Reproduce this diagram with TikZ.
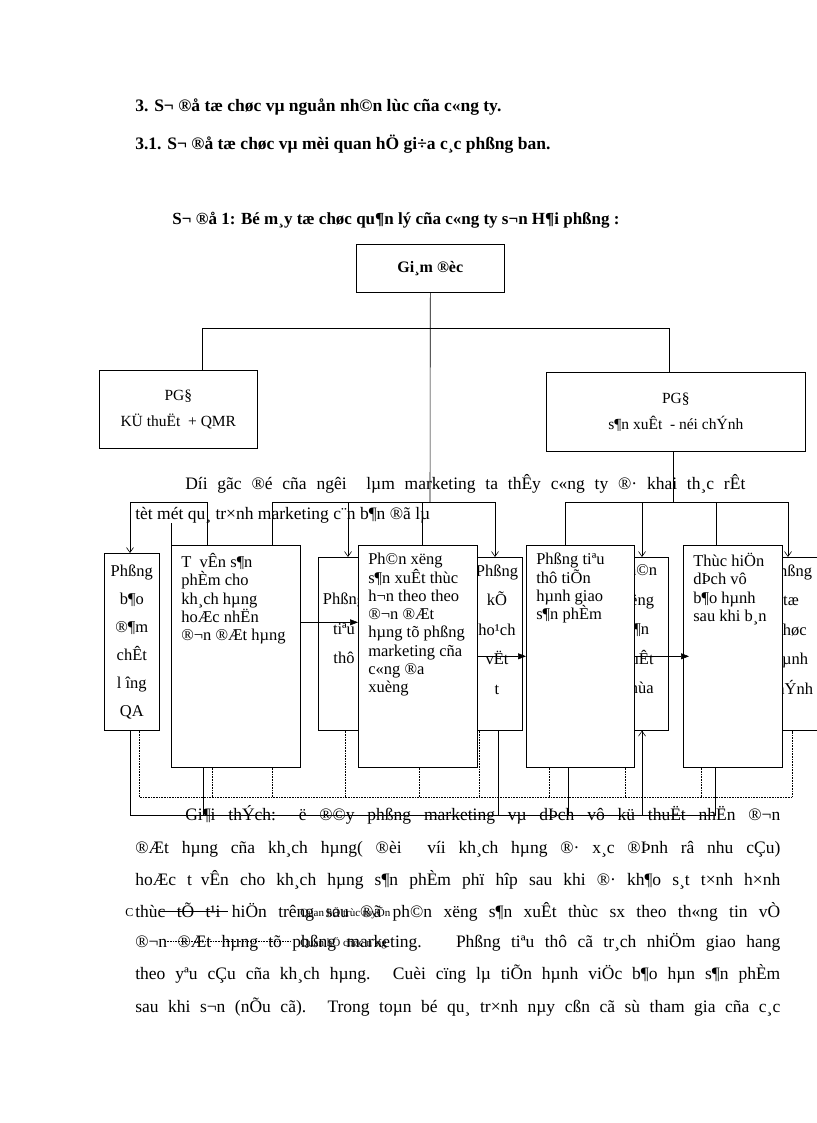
\documentclass[tikz,border=0pt]{standalone}
\usepackage{fontspec}
\setmainfont{Liberation Serif}
\usetikzlibrary{arrows.meta}

\begin{document}
\begin{tikzpicture}[x=1pt,y=-1pt,line width=0.6pt]
\tikzstyle{box}=[draw,fill=white,rectangle,anchor=north west,inner sep=0]
\tikzstyle{lab}=[anchor=north west,align=left,inner sep=0,xshift=10pt,yshift=-8pt,font=\fontsize{16.5}{18.3}\selectfont]
\tikzstyle{nar}=[align=center,inner sep=0,font=\fontsize{16.5}{29.5}\selectfont]
\tikzstyle{par}=[anchor=base west,inner sep=0,font=\fontsize{17.5}{17.5}\selectfont]
\tikzstyle{head}=[anchor=base west,inner sep=0,font=\fontsize{17.5}{17.5}\selectfont\bfseries]
\tikzstyle{arr}=[-{Straight Barb[length=5pt,width=7pt]}]
\tikzstyle{tri}=[-{Triangle[length=8pt,width=6pt]}]
\tikzstyle{dot}=[densely dotted]
\useasboundingbox[fill=white] (0,0) rectangle (816,1123);

% headings
\node[head] (h1) at (135,112) {3. S¬ ®å tæ chøc vµ nguån nh©n lùc cña c«ng ty.};
\node[head] (h2) at (135,150) {3.1. S¬ ®å tæ chøc vµ mèi quan hÖ gi÷a c¸c phßng ban.};
\node[head,anchor=base,font=\fontsize{17}{17}\selectfont\bfseries] (h3) at (396,225) {S¬ ®å 1: Bé m¸y tæ chøc qu¶n lý cña c«ng ty s¬n H¶i phßng :};

% top of the chart
\node[box,minimum width=148pt,minimum height=48pt,font=\fontsize{16}{16}\selectfont\bfseries] (gd) at (356,244) {Gi¸m ®èc};
\node[box,minimum width=158pt,minimum height=78pt,align=center,font=\fontsize{15.5}{26}\selectfont] (pgk) at (99,370) {PG§\\KÜ thuËt \ + QMR};
\node[box,minimum width=259pt,minimum height=79pt,align=center,font=\fontsize{15.5}{26}\selectfont] (pgs) at (546,372) {PG§\\s¶n xuÊt \ - néi chÝnh};
\coordinate (t1) at (202,328);
\coordinate (t2) at (669,328);
\coordinate (m0) at (430,502);
\draw (gd.south) -- (m0);
\draw (pgk.north -| t1) |- (t2) -- (pgs.north -| t2);

% boxes behind
\node[box,minimum width=52pt,minimum height=173pt] (tt) at (318,557) {};
\node[nar] (ttx) at (344,643) {Phßng\\tiªu\\thô\\ };
\node[box,minimum width=50pt,minimum height=173pt] (kh) at (472,557) {};
\node[nar] (khx) at (497,644) {Phßng\\kÕ\\ho¹ch\\vËt\\t\\ };
\node[box,minimum width=60pt,minimum height=173pt] (pxp) at (608,557) {};
\node[nar] (pxpx) at (638,644) {Ph©n\\xëng\\s¶n\\xuÊt\\chùa\\ };
\node[box,minimum width=60pt,minimum height=173pt] (tc) at (766,557) {};
\node[nar] (tcx) at (791,644) {Phßng\\tæ\\chøc\\hµnh\\chÝnh\\ };

% boxes in front
\node[box,minimum width=55pt,minimum height=177pt,align=center,font=\fontsize{16.5}{28}\selectfont] (qa) at (104,553) {Phßng\\b¶o\\®¶m\\chÊt\\l îng\\QA};
\node[box,minimum width=129pt,minimum height=222pt,label={[lab]north west:{T\enspace vÊn s¶n\\phÈm cho\\kh¸ch hµng\\hoÆc nhËn\\®¬n ®Æt hµng}}] (tv) at (171,545) {};
\node[box,minimum width=119pt,minimum height=222pt,label={[lab]north west:{Ph©n xëng\\s¶n xuÊt thùc\\h¬n theo theo\\®¬n ®Æt\\hµng tõ phßng\\marketing cña\\c«ng ®a\\xuèng}}] (px) at (358,545) {};
\node[box,minimum width=108pt,minimum height=222pt,label={[lab]north west:{Phßng tiªu\\thô tiÕn\\hµnh giao\\s¶n phÈm}}] (gh) at (526,545) {};
\node[box,minimum width=99pt,minimum height=222pt,label={[lab]north west:{Thùc hiÖn\\dÞch vô\\b¶o hµnh\\sau khi b¸n}}] (dv) at (683,545) {};

% second level
\coordinate (l1) at (130,502);
\coordinate (l2) at (207,502);
\draw[arr] (l2) -| (qa.north -| l1);
\draw (l2) -- (tv.north -| l2);
\draw (tv.north west) -- ++(0,-22);
\coordinate (m1) at (272,502);
\coordinate (m2) at (348,502);
\coordinate (m3) at (422,502);
\coordinate (m4) at (495,502);
\draw (m1) -- (m4);
\draw (m1) -- (tv.north -| m1);
\draw[arr] (m2) -- (tt.north -| m2);
\draw (m3) -- (px.north -| m3);
\draw[arr] (m4) -- (kh.north -| m4);
\coordinate (r0) at (673,502);
\coordinate (r1) at (565,502);
\coordinate (r2) at (642,502);
\coordinate (r3) at (716,502);
\coordinate (r4) at (788,502);
\draw (pgs.south -| r0) -- (r0);
\draw (r1) -- (r4);
\draw (r1) -- (gh.north -| r1);
\draw[arr] (r2) -- (pxp.north -| r2);
\draw (r3) -- (dv.north -| r3);
\draw[arr] (r4) -- (tc.north -| r4);

% flow in the row
\draw[tri] ([yshift=34pt]tv.east) -- ([yshift=34pt]px.west);
\draw[tri] (px.east) -- (gh.west);
\draw[tri] (gh.east) -- ([xshift=6pt]dv.west);

% dotted and solid links below
\coordinate (d0) at (139,797);
\coordinate (d9) at (792,797);
\draw[dot] (qa.south -| d0) |- (d9) -- (tc.south -| d9);
\foreach \x/\b in {212/tv,272/tv,345/tt,419/px,479/kh,549/gh,625/gh,701/dv}
  \draw[dot] (\b.south -| \x,0) -- (\x,797);
\coordinate (s0) at (130,815);
\coordinate (s5) at (715,815);
\draw (qa.south -| s0) |- (s5) -- (dv.south -| s5);
\foreach \x/\b in {203/tv,498/kh,568/gh}
  \draw (\b.south -| \x,0) -- (\x,815);
\draw[arr] (642,815) -- (pxp.south -| 642,0);

% text
\node[par] (p1) at (185,489) {\makebox[560pt][s]{Díi gãc ®é cña ngêi \ lµm marketing ta thÊy c«ng ty ®· khai th¸c rÊt}};
\node[par] (p2) at (135,519) {tèt mét qu¸ tr×nh marketing c¨n b¶n ®ã lµ};
\node[par] (p3) at (185,820) {\makebox[595pt][s]{Gi¶i thÝch: ë ®©y phßng marketing vµ dÞch vô kü thuËt nhËn ®¬n}};
\node[par] (p4) at (135,853) {\makebox[645pt][s]{®Æt hµng cña kh¸ch hµng( ®èi \ víi kh¸ch hµng ®· x¸c ®Þnh râ nhu cÇu)}};
\node[par] (p5) at (135,885) {\makebox[645pt][s]{hoÆc t\enspace vÊn cho kh¸ch hµng s¶n phÈm phï hîp sau khi ®· kh¶o s¸t t×nh h×nh}};
\node[par] (p6) at (135,917) {\makebox[645pt][s]{thùc tÕ t¹i hiÖn trêng sau ®ã ph©n xëng s¶n xuÊt thùc sx theo th«ng tin vÒ}};
\node[par] (p7) at (135,947) {\makebox[645pt][s]{®¬n ®Æt hµng tõ phßng marketing. \ Phßng tiªu thô cã tr¸ch nhiÖm giao hang}};
\node[par] (p8) at (135,979) {\makebox[645pt][s]{theo yªu cÇu cña kh¸ch hµng. Cuèi cïng lµ tiÕn hµnh viÖc b¶o hµn s¶n phÈm}};
\node[par] (p9) at (135,1012) {\makebox[645pt][s]{sau khi s¬n (nÕu cã). Trong toµn bé qu¸ tr×nh nµy cßn cã sù tham gia cña c¸c}};

% legend under the text
\node[anchor=base west,inner sep=0,font=\fontsize{12}{12}\selectfont] (lg0) at (125,916) {C};
\node[anchor=base west,inner sep=0,font=\fontsize{11}{11}\selectfont] (lg1) at (300,916) {Quan hÖ trùc tuyÕn};
\node[anchor=base west,inner sep=0,font=\fontsize{11}{11}\selectfont] (lg2) at (300,946) {Quan hÖ chøc n¨ng};
\draw (160,911) -- (228,911);
\draw[dot] (165,941) -- (290,941);
\end{tikzpicture}
\end{document}
